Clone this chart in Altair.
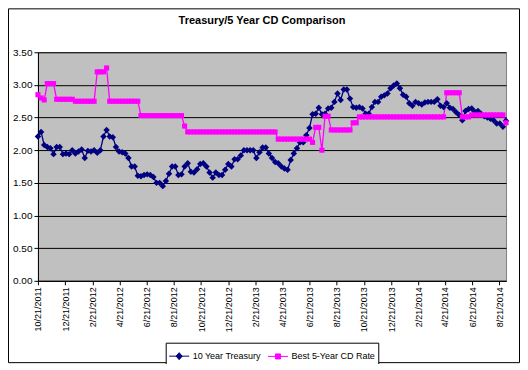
import altair as alt
import pandas as pd

series_names = ["10 Year Treasury", "Best 5-Year CD Rate"]
series_colors = ["#000080", "#FF00FF"]

start_date = "2011-10-21"

treasury = [
    2.21, 2.28, 2.08, 2.05, 2.03, 1.94, 2.05, 2.05, 1.94, 1.95,
    1.94, 2.00, 1.95, 1.98, 2.01, 1.88, 1.99, 1.98, 2.00, 1.96,
    2.00, 2.21, 2.31, 2.21, 2.20, 2.05, 1.98, 1.97, 1.95, 1.88,
    1.75, 1.75, 1.61, 1.60, 1.62, 1.63, 1.62, 1.59, 1.50, 1.50,
    1.45, 1.53, 1.64, 1.75, 1.75, 1.62, 1.63, 1.75, 1.80, 1.67,
    1.66, 1.71, 1.79, 1.80, 1.75, 1.66, 1.58, 1.66, 1.62, 1.62,
    1.70, 1.79, 1.75, 1.86, 1.86, 1.92, 2.00, 2.00, 2.00, 2.00,
    1.88, 1.97, 2.04, 2.04, 1.95, 1.88, 1.82, 1.80, 1.75, 1.72,
    1.70, 1.85, 1.95, 2.03, 2.12, 2.12, 2.23, 2.34, 2.55, 2.56,
    2.65, 2.55, 2.56, 2.64, 2.65, 2.74, 2.87, 2.77, 2.93, 2.93,
    2.79, 2.66, 2.65, 2.66, 2.64, 2.56, 2.56, 2.66, 2.74, 2.74,
    2.82, 2.84, 2.87, 2.95, 2.99, 3.02, 2.95, 2.85, 2.82, 2.72,
    2.68, 2.74, 2.72, 2.70, 2.73, 2.74, 2.74, 2.74, 2.78, 2.68,
    2.66, 2.72, 2.65, 2.63, 2.58, 2.54, 2.46, 2.60, 2.63, 2.64,
    2.59, 2.60, 2.56, 2.52, 2.50, 2.48, 2.46, 2.41, 2.41, 2.36,
    2.45,
]

cd_rate = [
    2.85, 2.80, 2.77, 3.02, 3.02, 3.02, 2.78, 2.78, 2.78, 2.78,
    2.78, 2.78, 2.75, 2.75, 2.75, 2.75, 2.75, 2.75, 2.75, 3.20,
    3.20, 3.20, 3.26, 2.75, 2.75, 2.75, 2.75, 2.75, 2.75, 2.75,
    2.75, 2.75, 2.75, 2.53, 2.53, 2.53, 2.53, 2.53, 2.53, 2.53,
    2.53, 2.53, 2.53, 2.53, 2.53, 2.53, 2.53, 2.37, 2.28, 2.28,
    2.28, 2.28, 2.28, 2.28, 2.28, 2.28, 2.28, 2.28, 2.28, 2.28,
    2.28, 2.28, 2.28, 2.28, 2.28, 2.28, 2.28, 2.28, 2.28, 2.28,
    2.28, 2.28, 2.28, 2.28, 2.28, 2.28, 2.28, 2.17, 2.17, 2.17,
    2.17, 2.17, 2.17, 2.17, 2.17, 2.17, 2.17, 2.17, 2.12, 2.35,
    2.35, 2.00, 2.52, 2.52, 2.31, 2.31, 2.31, 2.31, 2.31, 2.31,
    2.31, 2.42, 2.42, 2.51, 2.51, 2.51, 2.51, 2.51, 2.51, 2.51,
    2.51, 2.51, 2.51, 2.51, 2.51, 2.51, 2.51, 2.51, 2.51, 2.51,
    2.51, 2.51, 2.51, 2.51, 2.51, 2.51, 2.51, 2.51, 2.51, 2.51,
    2.51, 2.88, 2.88, 2.88, 2.88, 2.88, 2.51, 2.51, 2.51, 2.54,
    2.54, 2.54, 2.54, 2.54, 2.54, 2.54, 2.54, 2.54, 2.54, 2.54,
    2.42,
]

tick_dates = [
    (2011, 10, 21), (2011, 12, 21), (2012, 2, 21), (2012, 4, 21),
    (2012, 6, 21), (2012, 8, 21), (2012, 10, 21), (2012, 12, 21),
    (2013, 2, 21), (2013, 4, 21), (2013, 6, 21), (2013, 8, 21),
    (2013, 10, 21), (2013, 12, 21), (2014, 2, 21), (2014, 4, 21),
    (2014, 6, 21), (2014, 8, 21),
]
x_end = (2014, 9, 5)
y_ticks = [0, 0.5, 1.0, 1.5, 2.0, 2.5, 3.0, 3.5]

n = len(treasury)
dates = list(pd.date_range(start_date, periods=n, freq="7D"))
df = pd.DataFrame({
    "date": dates + dates,
    "rate": treasury + cd_rate,
    "series": [series_names[0]] * n + [series_names[1]] * n,
})

FONT = "Liberation Sans"

def dt(t):
    return alt.DateTime(year=t[0], month=t[1], date=t[2])

x_enc = alt.X(
    "date:T",
    scale=alt.Scale(domain=[dt(tick_dates[0]), dt(x_end)]),
    axis=alt.Axis(
        values=[dt(t) for t in tick_dates], format="%-m/%-d/%Y",
        labelAngle=-90, labelFontSize=9, labelFont=FONT, labelColor="black",
        tickSize=4, tickColor="black", domainColor="black", grid=False,
        title=None, labelPadding=2, labelOverlap=False, labelFlush=False,
    ),
)
y_enc = alt.Y(
    "rate:Q",
    scale=alt.Scale(domain=[0, 3.5], nice=False),
    axis=alt.Axis(
        values=y_ticks, format=".2f", grid=True, gridColor="black",
        gridOpacity=1, gridWidth=1, domainColor="black", tickColor="black",
        tickSize=4, labelFontSize=10, labelFont=FONT, labelColor="black",
        labelPadding=2, title=None,
    ),
)
color_scale = alt.Scale(domain=series_names, range=series_colors)

dia_path = "M-1,0H1M0,-0.35L0.3,0L0,0.35L-0.3,0Z"
sq_path = "M-1,0H1M-0.25,-0.25H0.25V0.25H-0.25Z"

legend = alt.Legend(
    title=None, orient="none", legendX=128, legendY=291,
    direction="horizontal", strokeColor="black", fillColor="white",
    padding=3, labelFontSize=9, labelFont=FONT, labelColor="black",
    symbolSize=400, symbolStrokeWidth=1, columnPadding=4, labelOffset=3,
    cornerRadius=0, symbolOpacity=1,
)

base = alt.Chart(df)

# legend-only layer (no marks drawn): line + marker symbols
legend_layer = base.transform_filter("datum.rate < 0").mark_point(
    filled=True, strokeWidth=1
).encode(
    x=x_enc, y=y_enc,
    color=alt.Color("series:N", scale=color_scale, legend=legend),
    stroke=alt.Stroke("series:N", scale=alt.Scale(domain=series_names, range=series_colors), legend=legend),
    shape=alt.Shape("series:N", scale=alt.Scale(domain=series_names, range=[dia_path, sq_path]), legend=legend),
)

lines = base.mark_line(strokeWidth=1.3).encode(
    x=x_enc, y=y_enc,
    color=alt.Color("series:N", scale=color_scale, legend=None),
    detail="series:N",
)

pts_treasury = base.transform_filter(
    alt.datum.series == series_names[0]
).mark_point(filled=True, opacity=1, shape="diamond", size=42).encode(
    x=x_enc, y=y_enc,
    color=alt.Color("series:N", scale=color_scale, legend=None),
)

pts_cd = base.transform_filter(
    alt.datum.series == series_names[1]
).mark_point(filled=True, opacity=1, shape="square", size=26).encode(
    x=x_enc, y=y_enc,
    color=alt.Color("series:N", scale=color_scale, legend=None),
)

frame = alt.Chart(pd.DataFrame({"f": [0]})).mark_rect(
    fillOpacity=0, stroke="black", strokeWidth=1
).encode(
    x=alt.value(-29.5), x2=alt.value(482.5), y=alt.value(-43.5), y2=alt.value(311),
)

chart = alt.layer(legend_layer, lines, pts_treasury, pts_cd, frame).properties(
    width=469, height=229,
    title=alt.TitleParams(
        "Treasury/5 Year CD Comparison", fontSize=11, fontWeight="bold",
        font=FONT, color="black", anchor="middle", frame="group",
        offset=-18, dx=-10,
    ),
    autosize=alt.AutoSizeParams(type="none"),
    padding={"left": 30, "top": 44, "right": 14, "bottom": 83},
    background="white",
).configure_view(
    fill="#C0C0C0", stroke="#808080", strokeWidth=1,
)

chart.save("out.html", embed_options={"renderer": "svg", "actions": False})
